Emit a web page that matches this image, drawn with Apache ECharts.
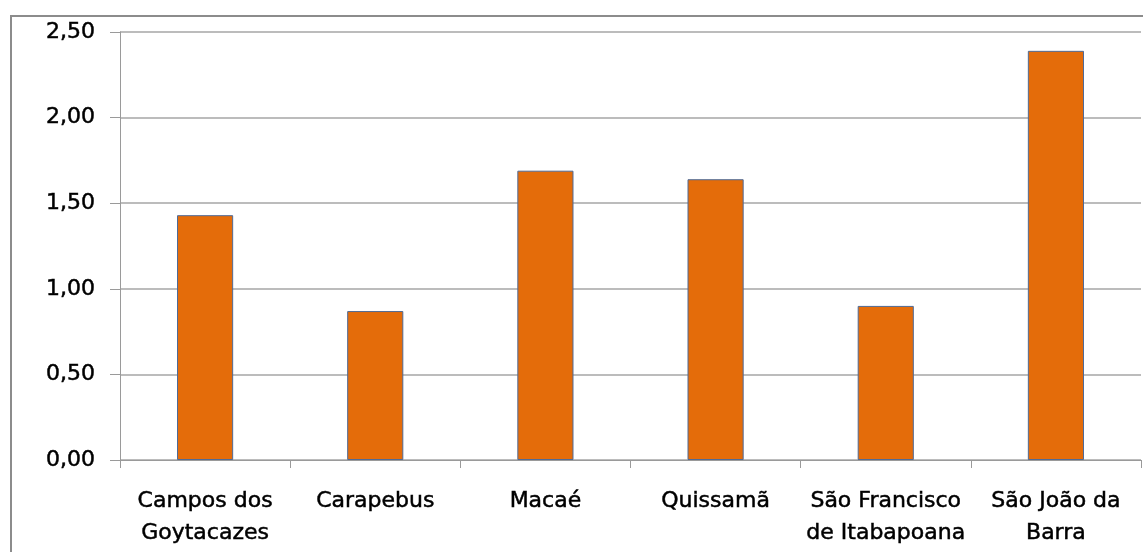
<!DOCTYPE html>
<html>
<head>
<meta charset="utf-8">
<script src="https://cdn.jsdelivr.net/npm/echarts@6/dist/echarts.min.js"></script>
<style>
html,body{margin:0;padding:0;background:#fff;}
#chart{width:1143px;height:552px;position:absolute;left:0;top:0;}
#frame{position:absolute;left:10px;top:15px;width:1140px;height:600px;border-left:2px solid #8c8c8c;border-top:2px solid #8c8c8c;pointer-events:none;}
</style>
</head>
<body>
<div id="chart"></div>
<div id="frame"></div>
<script>
var categories = ["Campos dos\nGoytacazes", "Carapebus", "Macaé", "Quissamã", "São Francisco\nde Itabapoana", "São João da\nBarra"];
var values = [1.43, 0.87, 1.69, 1.64, 0.90, 2.39];
var yTicks = { min: 0, max: 2.5, interval: 0.5 };

var font = "DejaVu Sans";
var chart = echarts.init(document.getElementById('chart'));
chart.setOption({
  animation: false,
  backgroundColor: 'transparent',
  grid: { left: 120, right: 2, top: 32, bottom: 92, containLabel: false },
  xAxis: {
    type: 'category',
    data: categories,
    axisLine: { show: true, lineStyle: { color: '#9a9a9a', width: 1 } },
    axisTick: { show: true, length: 8, lineStyle: { color: '#9a9a9a' } },
    axisLabel: { color: '#000', fontFamily: font, fontSize: 22, lineHeight: 32, margin: 25, interval: 0,
      textBorderColor: '#000', textBorderWidth: 0.5 },
    splitLine: { show: false }
  },
  yAxis: {
    type: 'value',
    min: yTicks.min, max: yTicks.max, interval: yTicks.interval,
    axisLine: { show: true, lineStyle: { color: '#9a9a9a', width: 1 } },
    axisTick: { show: true, length: 10, lineStyle: { color: '#9a9a9a' } },
    axisLabel: { color: '#000', fontFamily: font, fontSize: 22, margin: 25,
      textBorderColor: '#000', textBorderWidth: 0.5,
      formatter: function (v) { return v.toFixed(2).replace('.', ','); } },
    splitLine: { show: true, lineStyle: { color: '#a6a6a6', width: 1.5 } }
  },
  series: [{
    type: 'bar',
    data: values,
    barWidth: '33%',
    itemStyle: { color: '#E46C0A', borderColor: '#4F6A96', borderWidth: 1 }
  }]
});
</script>
</body>
</html>
